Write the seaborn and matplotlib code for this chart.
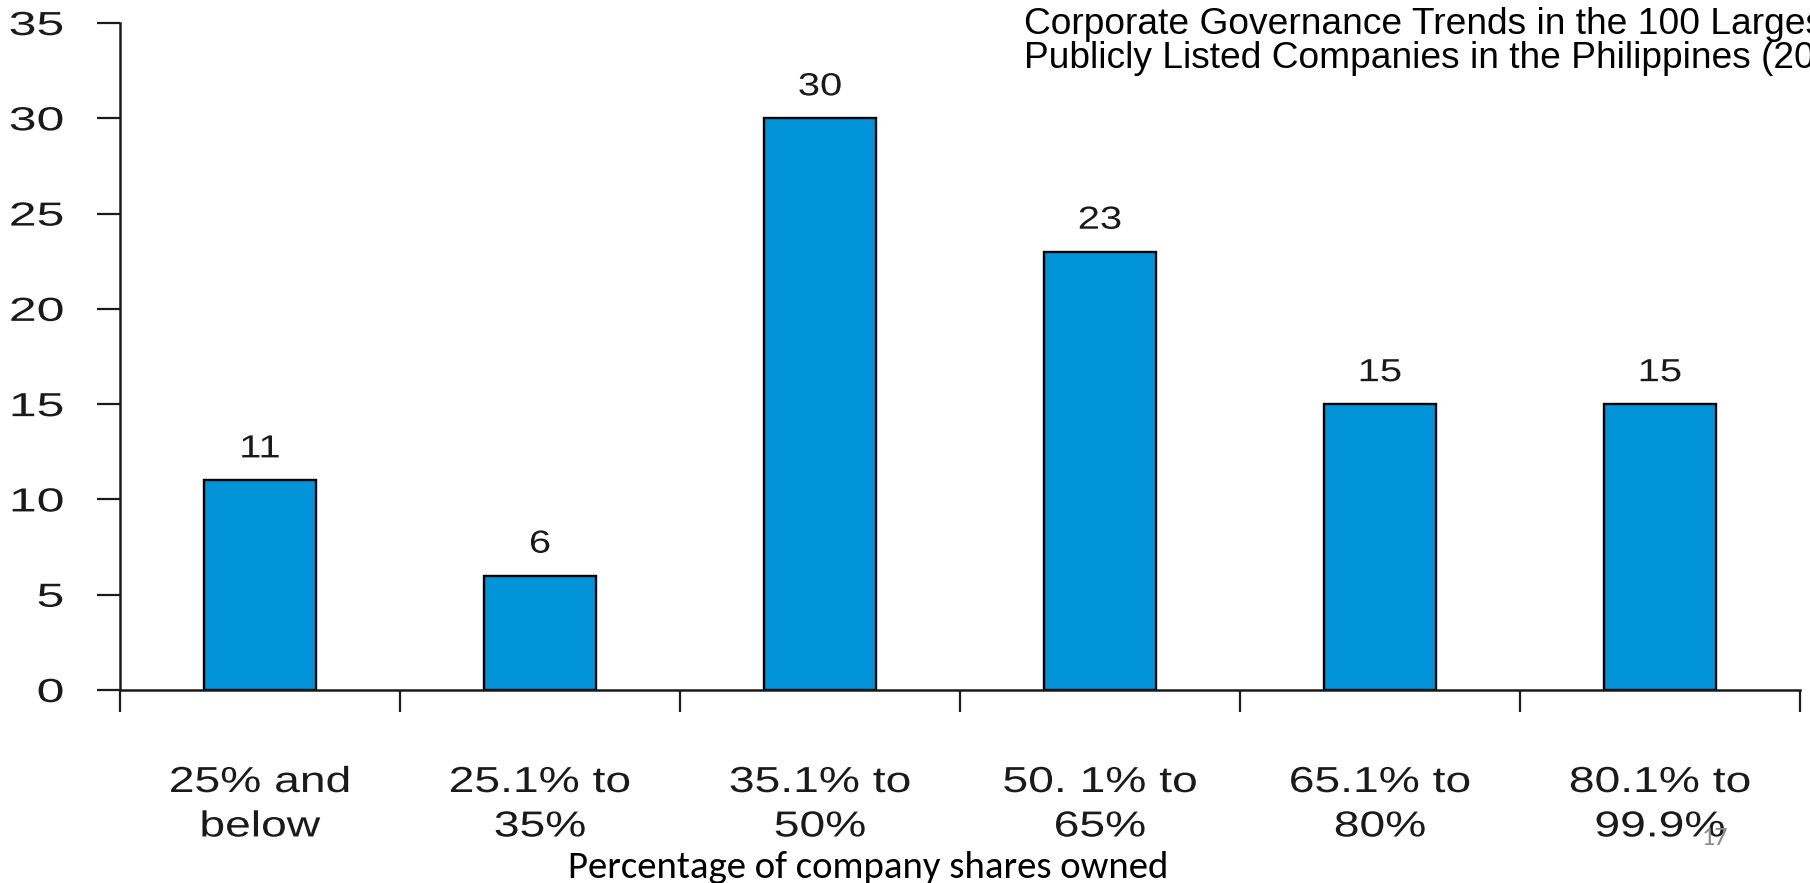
import matplotlib
matplotlib.use("Agg")
import matplotlib.pyplot as plt
from matplotlib import font_manager
from matplotlib.patheffects import AbstractPathEffect
from matplotlib.transforms import Affine2D
from matplotlib.ticker import FixedLocator, NullFormatter
import seaborn as sns
import pandas as pd

# Share-ownership brackets and number of companies in each
categories = ["25% and\nbelow", "25.1% to\n35%", "35.1% to\n50%",
              "50. 1% to\n65%", "65.1% to\n80%", "80.1% to\n99.9%"]
companies = [11, 6, 30, 23, 15, 15]
y_ticks = [0, 5, 10, 15, 20, 25, 30, 35]

title_lines = ["Corporate Governance Trends in the 100 Largest",
               "Publicly Listed Companies in the Philippines (20"]
x_title = "Percentage of company shares owned"
page_number = "17"

BAR_COLOR = "#0093D8"


def pick_font(names, fallback="DejaVu Sans"):
    installed = {f.name for f in font_manager.fontManager.ttflist}
    for n in names:
        if n in installed:
            return n
    return fallback


SANS = pick_font(["Liberation Sans", "Arimo"])
NARROW = pick_font(["Liberation Sans Narrow", "Arial Narrow"], SANS)
SLIDE = pick_font(["Carlito", "Lato", "Open Sans"])


class HStretch(AbstractPathEffect):
    """Widen glyph outlines horizontally about a chosen anchor of each line."""

    def __init__(self, sx, anchor="center"):
        super().__init__()
        self.sx = sx
        self.anchor = anchor

    def draw_path(self, renderer, gc, tpath, affine, rgbFace=None):
        ext = tpath.get_extents()
        if self.anchor == "left":
            cx = ext.x0
        elif self.anchor == "right":
            cx = ext.x1
        else:
            cx = 0.5 * (ext.x0 + ext.x1)
        stretch = Affine2D().translate(-cx, 0).scale(self.sx, 1).translate(cx, 0)
        renderer.draw_path(gc, tpath, stretch + affine, rgbFace)


sns.set_theme(style="white")
plt.rcParams["font.family"] = [SANS, "DejaVu Sans"]

W, H = 1810, 883
fig = plt.figure(figsize=(W / 100, H / 100), dpi=100)
fig.patch.set_facecolor("white")

# plot area in pixels: x from 120 to 1800, y(0)=690, y(35)=23
ax = fig.add_axes([120 / W, (H - 690) / H, 1680 / W, 667 / H])

df = pd.DataFrame({"bracket": categories, "companies": companies})
sns.barplot(data=df, x="bracket", y="companies", order=categories,
            color=BAR_COLOR, width=0.4, edgecolor="black", linewidth=1.7,
            saturation=1, ax=ax)

for bar in ax.patches:
    bar.set_facecolor(BAR_COLOR)

ax.set_xlim(-0.5, len(categories) - 0.5)
ax.set_ylim(0, 35)
ax.set_xlabel("")
ax.set_ylabel("")
ax.set_facecolor("white")

for side in ["top", "right"]:
    ax.spines[side].set_visible(False)
for side in ["left", "bottom"]:
    ax.spines[side].set_color("#1a1a1a")
    ax.spines[side].set_linewidth(1.8)

# y axis
ax.yaxis.set_major_locator(FixedLocator(y_ticks))
ax.set_yticklabels([str(v) for v in y_ticks])
ax.tick_params(axis="y", which="major", direction="out", length=16.5,
               width=1.6, color="#1a1a1a", pad=24, labelsize=24,
               labelcolor="#1a1a1a", left=True)

# x axis: ticks mark the bracket boundaries, labels sit at bracket centres
bounds = [i - 0.5 for i in range(len(categories) + 1)]
ax.xaxis.set_major_locator(FixedLocator(bounds))
ax.xaxis.set_major_formatter(NullFormatter())
ax.xaxis.set_minor_locator(FixedLocator(list(range(len(categories)))))
ax.set_xticks(list(range(len(categories))), categories, minor=True)
ax.tick_params(axis="x", which="major", direction="out", length=16,
               width=1.6, color="#1a1a1a", bottom=True)
ax.tick_params(axis="x", which="minor", length=0, pad=54, labelsize=26,
               labelcolor="#1a1a1a", bottom=True)

for lab in ax.get_xticklabels(minor=True):
    lab.set_linespacing(1.35)
    lab.set_path_effects([HStretch(1.28, "center")])
for lab in ax.get_yticklabels():
    lab.set_path_effects([HStretch(1.5, "right")])

# value labels above the bars
for container in ax.containers:
    labels = ax.bar_label(container, labels=[str(v) for v in companies],
                          padding=11.5, fontsize=23, color="#1a1a1a")
    for t in labels:
        t.set_path_effects([HStretch(1.25, "center")])

# slide title (top right, running off the page)
fig.text(1024 / W, 1 - 34 / H, title_lines[0], fontsize=26.7, family=NARROW,
         color="black", ha="left", va="baseline")
fig.text(1024 / W, 1 - 68 / H, title_lines[1], fontsize=26.7, family=NARROW,
         color="black", ha="left", va="baseline")

# axis caption and page number
fig.text(568 / W, 1 - 878 / H, x_title, fontsize=28, family=SLIDE,
         color="black", ha="left", va="baseline")
fig.text(1702 / W, 1 - 845 / H, page_number, fontsize=19, family=SLIDE,
         color="#8a8a8a", ha="left", va="baseline")

fig.savefig("out.png", dpi=100, facecolor="white")
